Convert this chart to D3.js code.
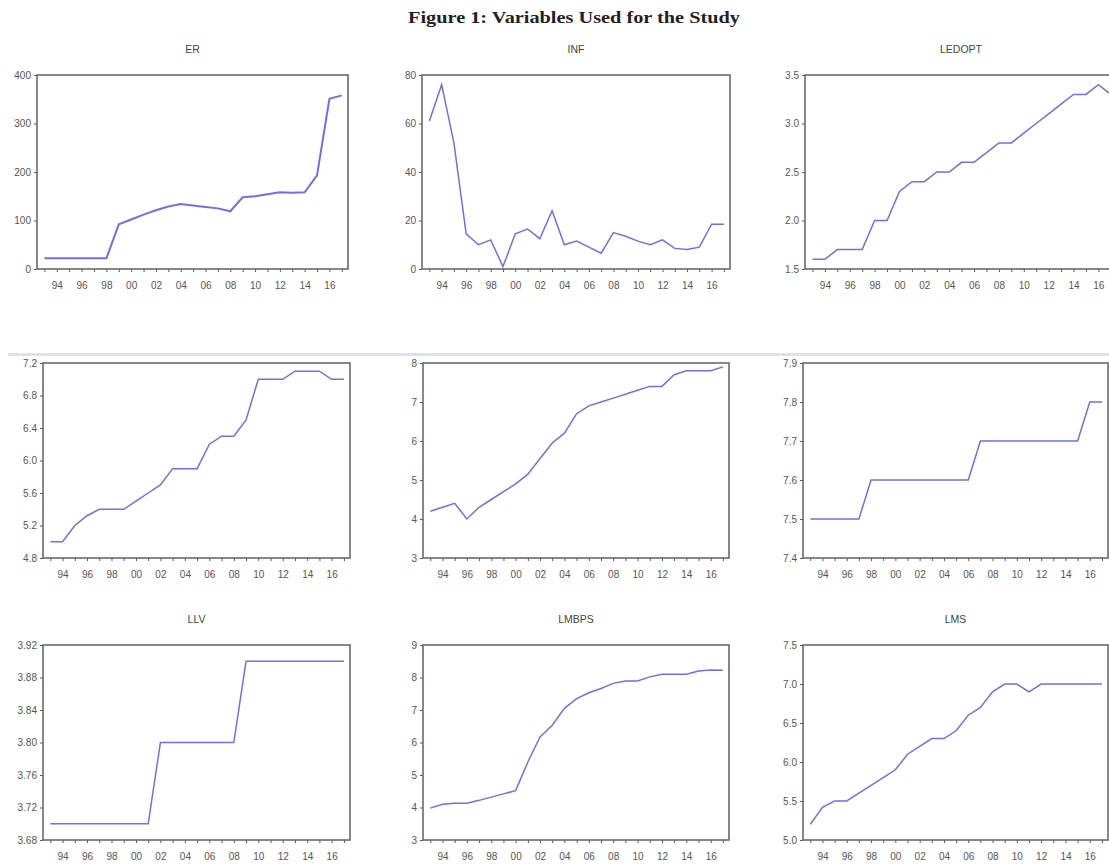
<!DOCTYPE html>
<html>
<head>
<meta charset="utf-8">
<script src="https://cdn.jsdelivr.net/npm/d3@7"></script>
<style>
  body { margin: 0; background: #fff; }
  svg { display: block; }
</style>
</head>
<body>
<div id="chart"></div>
<script>
// years 1993..2017
var years = d3.range(1993, 2018);
var xLabels = ["94", "96", "98", "00", "02", "04", "06", "08", "10", "12", "14", "16"];
var xLabelYears = [1994, 1996, 1998, 2000, 2002, 2004, 2006, 2008, 2010, 2012, 2014, 2016];

var er     = [22, 22, 22, 22, 22, 22, 92, 102, 112, 121, 129, 134, 131, 128, 125, 119, 148, 150, 154, 158, 157, 158, 193, 351, 358];
var inf    = [61, 76, 52, 14.5, 10, 12, 1, 14.5, 16.5, 12.5, 24, 10, 11.5, 9, 6.5, 15, 13.5, 11.5, 10, 12, 8.5, 8, 9, 18.5, 18.5];
var ledopt = [1.6, 1.6, 1.7, 1.7, 1.7, 2.0, 2.0, 2.3, 2.4, 2.4, 2.5, 2.5, 2.6, 2.6, 2.7, 2.8, 2.8, 2.9, 3.0, 3.1, 3.2, 3.3, 3.3, 3.4, 3.3];
var row2a  = [5.0, 5.0, 5.2, 5.32, 5.4, 5.4, 5.4, 5.5, 5.6, 5.7, 5.9, 5.9, 5.9, 6.2, 6.3, 6.3, 6.5, 7.0, 7.0, 7.0, 7.1, 7.1, 7.1, 7.0, 7.0];
var row2b  = [4.2, 4.3, 4.4, 4.0, 4.3, 4.5, 4.7, 4.9, 5.15, 5.55, 5.95, 6.2, 6.7, 6.9, 7.0, 7.1, 7.2, 7.3, 7.4, 7.4, 7.7, 7.8, 7.8, 7.8, 7.9];
var row2c  = [7.5, 7.5, 7.5, 7.5, 7.5, 7.6, 7.6, 7.6, 7.6, 7.6, 7.6, 7.6, 7.6, 7.6, 7.7, 7.7, 7.7, 7.7, 7.7, 7.7, 7.7, 7.7, 7.7, 7.8, 7.8];
var llv    = [3.70, 3.70, 3.70, 3.70, 3.70, 3.70, 3.70, 3.70, 3.70, 3.80, 3.80, 3.80, 3.80, 3.80, 3.80, 3.80, 3.90, 3.90, 3.90, 3.90, 3.90, 3.90, 3.90, 3.90, 3.90];
var lmbps  = [3.98, 4.1, 4.13, 4.13, 4.22, 4.32, 4.42, 4.52, 5.4, 6.17, 6.53, 7.05, 7.35, 7.53, 7.66, 7.82, 7.89, 7.89, 8.02, 8.1, 8.1, 8.1, 8.2, 8.23, 8.22];
var lms    = [5.2, 5.42, 5.5, 5.5, 5.6, 5.7, 5.8, 5.9, 6.1, 6.2, 6.3, 6.3, 6.4, 6.6, 6.7, 6.9, 7.0, 7.0, 6.9, 7.0, 7.0, 7.0, 7.0, 7.0, 7.0];

var erTicks     = [0, 100, 200, 300, 400];
var infTicks    = [0, 20, 40, 60, 80];
var ledoptTicks = [1.5, 2.0, 2.5, 3.0, 3.5];
var row2aTicks  = [4.8, 5.2, 5.6, 6.0, 6.4, 6.8, 7.2];
var row2bTicks  = [3, 4, 5, 6, 7, 8];
var row2cTicks  = [7.4, 7.5, 7.6, 7.7, 7.8, 7.9];
var llvTicks    = [3.68, 3.72, 3.76, 3.80, 3.84, 3.88, 3.92];
var lmbpsTicks  = [3, 4, 5, 6, 7, 8, 9];
var lmsTicks    = [5.0, 5.5, 6.0, 6.5, 7.0, 7.5];

var width = 1109, height = 864;

var svg = d3.select("#chart").append("svg")
    .attr("width", width)
    .attr("height", height)
    .style("overflow", "hidden");

svg.append("text")
    .attr("x", 574)
    .attr("y", 23)
    .attr("text-anchor", "middle")
    .attr("textLength", 332)
    .attr("lengthAdjust", "spacingAndGlyphs")
    .style("font-family", "'Liberation Serif', 'Times New Roman', serif")
    .style("font-weight", "bold")
    .style("font-size", "16px")
    .style("fill", "#222")
    .text("Figure 1: Variables Used for the Study");

// light page-break band above second row
svg.append("rect")
    .attr("x", 8).attr("y", 353)
    .attr("width", width).attr("height", 3)
    .attr("fill", "#e2e2e2");

var panels = [
  {title: "ER",     values: er,     ticks: erTicks,     fmt: d3.format("d"),   left: 37,  right: 348,  top: 75,  bottom: 269},
  {title: "INF",    values: inf,    ticks: infTicks,    fmt: d3.format("d"),   left: 422, right: 730,  top: 75,  bottom: 269},
  {title: "LEDOPT", values: ledopt, ticks: ledoptTicks, fmt: d3.format(".1f"), left: 805, right: 1117, top: 75,  bottom: 269},
  {title: "",       values: row2a,  ticks: row2aTicks,  fmt: d3.format(".1f"), left: 43,  right: 350,  top: 363, bottom: 558},
  {title: "",       values: row2b,  ticks: row2bTicks,  fmt: d3.format("d"),   left: 423, right: 729,  top: 363, bottom: 558},
  {title: "",       values: row2c,  ticks: row2cTicks,  fmt: d3.format(".1f"), left: 803, right: 1108, top: 363, bottom: 558},
  {title: "LLV",    values: llv,    ticks: llvTicks,    fmt: d3.format(".2f"), left: 43,  right: 350,  top: 645, bottom: 840},
  {title: "LMBPS",  values: lmbps,  ticks: lmbpsTicks,  fmt: d3.format("d"),   left: 423, right: 729,  top: 645, bottom: 840},
  {title: "LMS",    values: lms,    ticks: lmsTicks,    fmt: d3.format(".1f"), left: 803, right: 1108, top: 645, bottom: 840}
];

panels.forEach(function(p, k) {
  var x = d3.scaleLinear()
      .domain([1992.4, 2017.5])
      .range([p.left, p.right]);
  var y = d3.scaleLinear()
      .domain(d3.extent(p.ticks))
      .range([p.bottom, p.top]);

  var g = svg.append("g");

  if (p.title) {
    g.append("text")
        .attr("x", (p.left + p.right) / 2)
        .attr("y", p.top - 22)
        .attr("text-anchor", "middle")
        .style("font-family", "'Liberation Sans', Arial, sans-serif")
        .style("font-size", "10.5px")
        .style("fill", "#444")
        .text(p.title);
  }

  // y axis
  var yAxis = g.append("g")
      .attr("transform", "translate(" + p.left + ",0)")
      .call(d3.axisLeft(y).tickValues(p.ticks).tickFormat(p.fmt).tickSize(3).tickPadding(3));
  yAxis.select(".domain").remove();

  // x axis: ticks each year, labels every other year
  var xAxis = g.append("g")
      .attr("transform", "translate(0," + p.bottom + ")")
      .call(d3.axisBottom(x).tickValues(years).tickSize(3)
        .tickFormat(function(d) {
          var i = xLabelYears.indexOf(d);
          return i >= 0 ? xLabels[i] : "";
        }).tickPadding(10));
  xAxis.select(".domain").remove();

  [yAxis, xAxis].forEach(function(a) {
    a.selectAll("text")
        .style("font-family", "'Liberation Sans', Arial, sans-serif")
        .style("font-size", "10px")
        .style("fill", "#555");
    a.selectAll("line").attr("stroke", "#555");
  });

  // frame
  g.append("rect")
      .attr("x", p.left)
      .attr("y", p.top)
      .attr("width", p.right - p.left)
      .attr("height", p.bottom - p.top)
      .attr("fill", "none")
      .attr("stroke", "#6a6a6a")
      .attr("stroke-width", 1.6);

  var line = d3.line()
      .x(function(d, i) { return x(years[i]); })
      .y(function(d) { return y(d); });

  g.append("path")
      .datum(p.values)
      .attr("d", line)
      .attr("fill", "none")
      .attr("stroke", "#6f6fe6")
      .attr("stroke-width", k === 0 ? 2 : 1.5);
});
</script>
</body>
</html>
